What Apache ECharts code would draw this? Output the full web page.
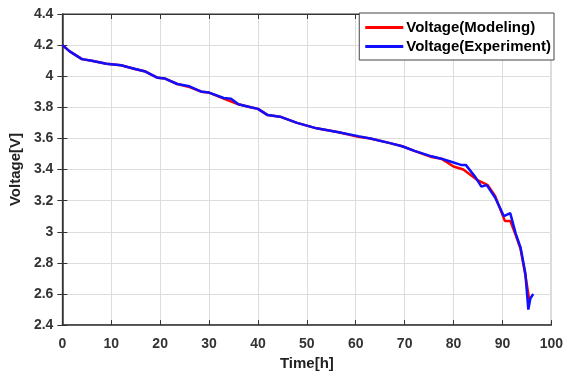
<!DOCTYPE html>
<html><head><meta charset="utf-8">
<script src="https://cdn.jsdelivr.net/npm/echarts@6/dist/echarts.min.js"></script>
<style>html,body{margin:0;padding:0;background:#fff}#c{width:566px;height:376px}</style>
</head><body><div id="c"></div>
<script>
const timeModel = [0,1.5,4,6,9,12,15,17,19.5,21,23.5,26,28.5,30,33.5,36,38.5,40,42,44.5,48,52,56.5,60.5,63,67,69.5,72,75.5,77.5,80,82,85,87,88.5,90.5,91.6,92.7,93.7,94.7,95.5];
const voltModel = [4.20,4.16,4.11,4.10,4.08,4.07,4.045,4.03,3.99,3.985,3.95,3.93,3.90,3.895,3.85,3.82,3.80,3.79,3.75,3.74,3.70,3.665,3.64,3.61,3.60,3.57,3.55,3.52,3.48,3.47,3.42,3.40,3.33,3.30,3.23,3.07,3.07,2.98,2.89,2.72,2.56];
const timeExp = [0,1.5,4,6,9,12,14.5,17,19.5,21,23.5,26,28.5,30,33,34.5,36,38.5,40,42,44.5,48,52,56.5,60.5,63,67,69.5,72,75.5,77.5,80,81.5,82.5,84.5,85.7,86.8,88.5,90.3,91.6,92.7,93.7,94.7,95.3,95.7,96.3];
const voltExp = [4.20,4.16,4.11,4.10,4.08,4.07,4.05,4.03,3.99,3.985,3.95,3.935,3.90,3.895,3.86,3.855,3.82,3.80,3.79,3.75,3.74,3.70,3.665,3.64,3.615,3.60,3.57,3.55,3.52,3.485,3.47,3.445,3.43,3.43,3.35,3.29,3.30,3.22,3.10,3.12,2.99,2.90,2.73,2.50,2.57,2.60];
const seriesNames = ['Voltage(Modeling)','Voltage(Experiment)'];

const chart = echarts.init(document.getElementById('c'));
const lbl = {fontFamily:'Liberation Sans, Arial', fontWeight:'bold', fontSize:14, color:'#333'};
const hidden = {show:false};
chart.setOption({
  animation:false,
  grid:{left:62,right:13,top:14,bottom:47,show:true,borderColor:'#333',borderWidth:1},
  legend:{
    data:seriesNames, orient:'vertical', right:12, top:13,
    backgroundColor:'#fff', borderColor:'#444', borderWidth:1,
    padding:[7,3,6,6], itemGap:4, itemWidth:38, itemHeight:3,
    icon:'rect',
    textStyle:{fontFamily:'Liberation Sans, Arial', fontWeight:'bold', fontSize:15, color:'#000', padding:[0,0,0,-2]}
  },
  xAxis:[{
    type:'value', min:0, max:100, interval:10,
    name:'Time[h]', nameLocation:'middle', nameGap:30,
    nameTextStyle:{fontFamily:'Liberation Sans, Arial', fontWeight:'bold', fontSize:15, color:'#222'},
    axisLine:{lineStyle:{color:'#333',width:1.5}},
    axisTick:{inside:true,length:5,lineStyle:{color:'#333'}},
    axisLabel:Object.assign({margin:12},lbl),
    splitLine:{lineStyle:{color:'#ddd'}}
  },{
    type:'value', min:0, max:100, interval:10, position:'top',
    axisLine:{lineStyle:{color:'#333'}}, axisTick:{inside:true,length:5,lineStyle:{color:'#333'}},
    axisLabel:hidden, splitLine:hidden
  }],
  yAxis:[{
    type:'value', min:2.4, max:4.4, interval:0.2,
    name:'Voltage[V]', nameLocation:'middle', nameGap:38,
    nameTextStyle:{fontFamily:'Liberation Sans, Arial', fontWeight:'bold', fontSize:15, color:'#222'},
    axisLine:{lineStyle:{color:'#333',width:1.5}},
    axisTick:{inside:true,length:5,lineStyle:{color:'#333'}},
    axisLabel:Object.assign({margin:9, formatter:v=>String(+v.toFixed(1))},lbl),
    splitLine:{lineStyle:{color:'#ddd'}}
  },{
    type:'value', min:2.4, max:4.4, interval:0.2, position:'right',
    axisLine:{lineStyle:{color:'#333'}}, axisTick:{inside:true,length:5,lineStyle:{color:'#333'}},
    axisLabel:hidden, splitLine:hidden
  }],
  series:[
    {name:seriesNames[0], type:'line', showSymbol:false, symbol:'none',
     data:timeModel.map((t,i)=>[t,voltModel[i]]),
     lineStyle:{color:'#ff0000',width:2.5}, itemStyle:{color:'#ff0000'}},
    {name:seriesNames[1], type:'line', showSymbol:false, symbol:'none',
     data:timeExp.map((t,i)=>[t,voltExp[i]]),
     lineStyle:{color:'#1010ff',width:2.5}, itemStyle:{color:'#1010ff'}}
  ]
});
</script></body></html>
